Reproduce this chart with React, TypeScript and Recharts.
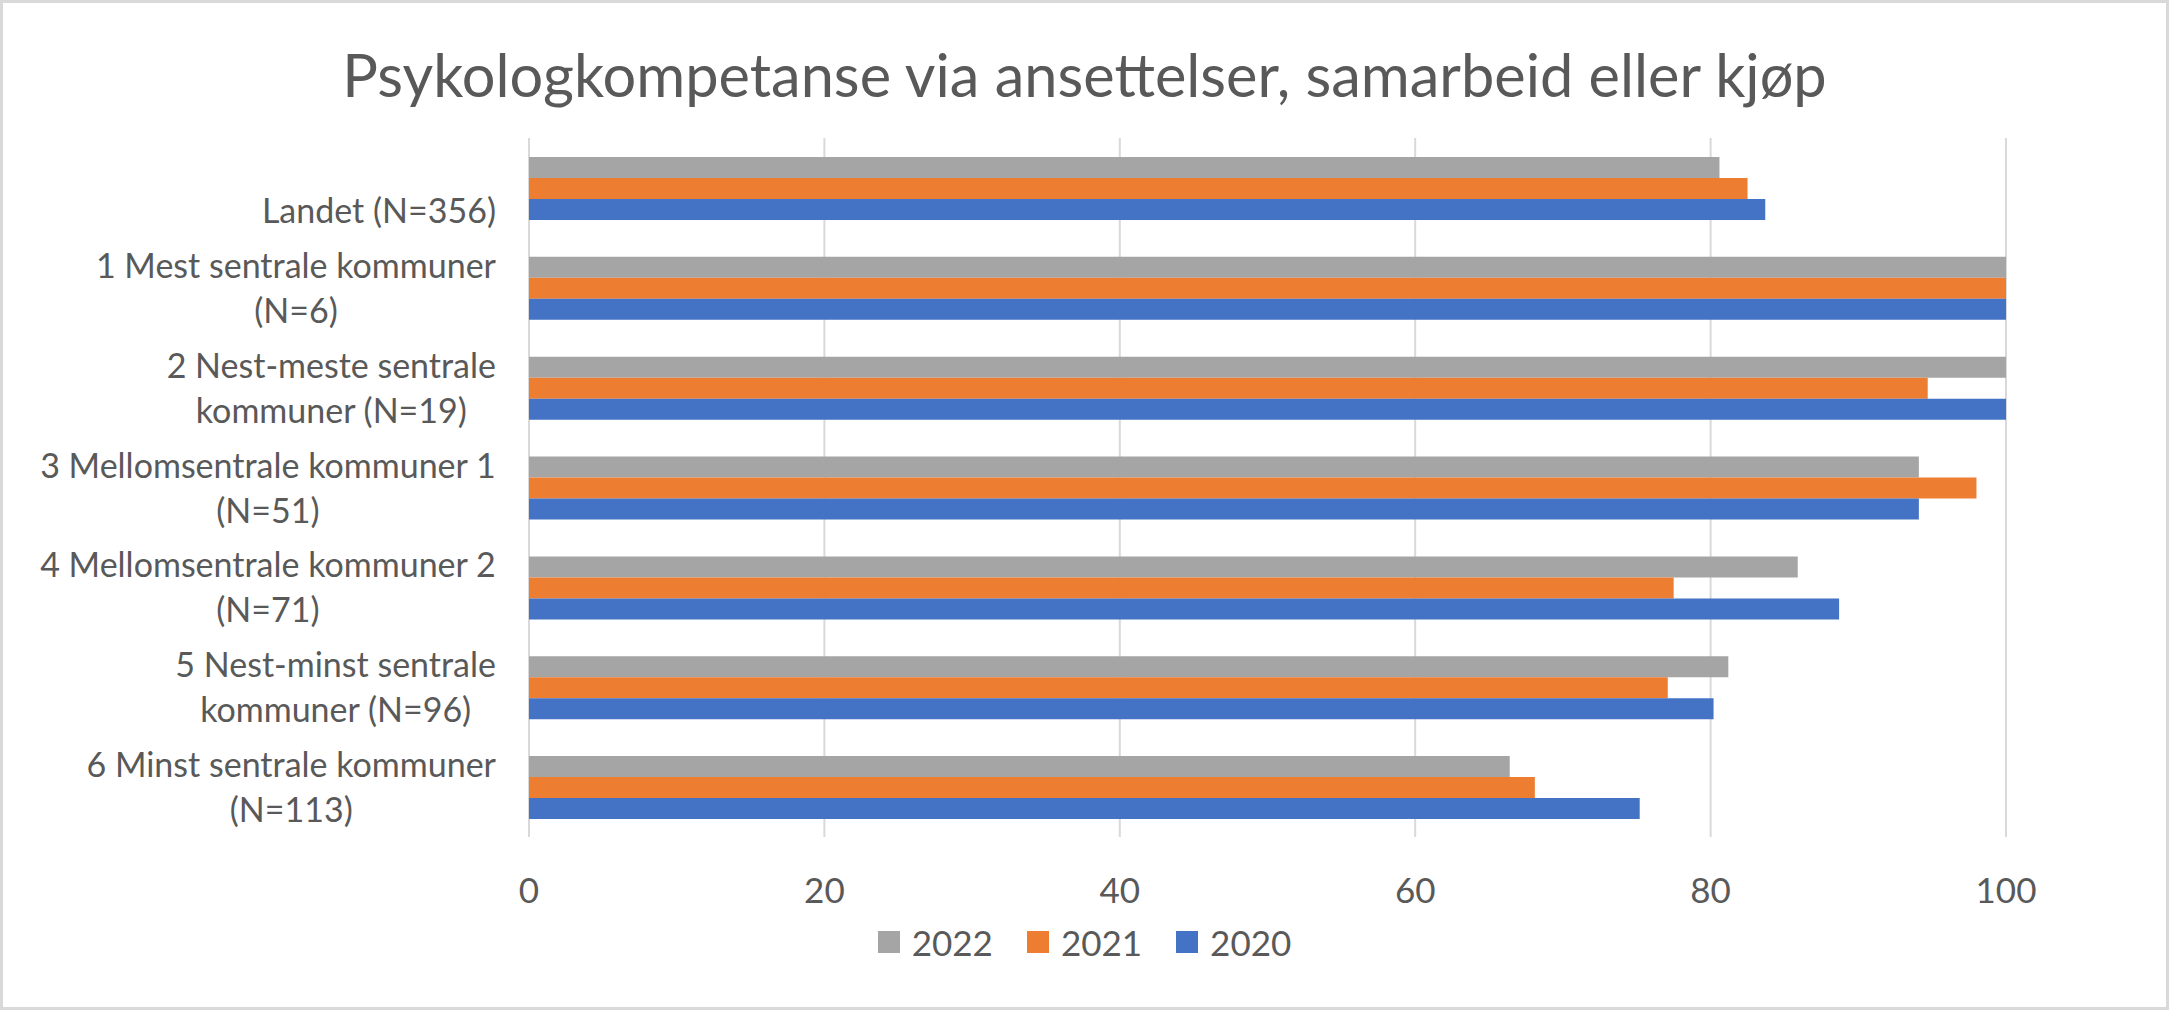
import React from "react";
import { BarChart, Bar, XAxis, YAxis, CartesianGrid, Legend } from "recharts";

const categories = [
  "Landet (N=356)",
  "1 Mest sentrale kommuner\n(N=6)",
  "2 Nest-meste sentrale\nkommuner (N=19)",
  "3 Mellomsentrale kommuner 1\n(N=51)",
  "4 Mellomsentrale kommuner 2\n(N=71)",
  "5 Nest-minst sentrale\nkommuner (N=96)",
  "6 Minst sentrale kommuner\n(N=113)",
];

const values2022 = [80.6, 100, 100, 94.1, 85.9, 81.2, 66.4];
const values2021 = [82.5, 100, 94.7, 98.0, 77.5, 77.1, 68.1];
const values2020 = [83.7, 100, 100, 94.1, 88.7, 80.2, 75.2];

const seriesNames = ["2022", "2021", "2020"];
const xTicks = [0, 20, 40, 60, 80, 100];

const data = categories.map((name, i) => ({
  name,
  y2022: values2022[i],
  y2021: values2021[i],
  y2020: values2020[i],
}));

const FONT = "Lato, 'Open Sans', sans-serif";
const TEXT = "#595959";
const W = 2169;
const H = 1010;

let canvas: HTMLCanvasElement | null = null;
function measure(text: string, size: number) {
  if (!canvas) canvas = document.createElement("canvas");
  const ctx = canvas.getContext("2d")!;
  ctx.font = `${size}px Lato`;
  return ctx.measureText(text).width;
}

function CategoryTick(props: any) {
  const { x, y, payload } = props;
  const lines: string[] = String(payload.value).split("\n");
  const size = 34;
  const widths = lines.map((l) => measure(l, size));
  const block = Math.max(...widths);
  const cx = x - block / 2;
  // single line labels sit on the second line position, like the original
  const baselines = lines.length === 1 ? [y + 35] : [y - 10, y + 35];
  return (
    <g>
      {lines.map((l, i) => (
        <text
          key={i}
          x={cx}
          y={baselines[i]}
          textAnchor="middle"
          fontFamily={FONT}
          fontSize={size}
          fill={TEXT}
        >
          {l}
        </text>
      ))}
    </g>
  );
}

function ValueTick(props: any) {
  const { x, y, payload } = props;
  return (
    <text x={x} y={y + 66} textAnchor="middle" fontFamily={FONT} fontSize={35} fill={TEXT}>
      {payload.value}
    </text>
  );
}

function LegendContent(props: any) {
  const items = [...(props.payload || [])].sort(
    (a: any, b: any) => seriesNames.indexOf(String(a.value)) - seriesNames.indexOf(String(b.value))
  );
  return (
    <div
      style={{
        display: "flex",
        justifyContent: "center",
        alignItems: "center",
        height: 54,
        fontFamily: FONT,
        fontSize: 35,
        color: TEXT,
        gap: 34,
      }}
    >
      {items.map((it: any) => (
        <div key={it.value} style={{ display: "flex", alignItems: "center" }}>
          <span
            style={{ width: 22, height: 22, background: it.color, marginRight: 12, display: "inline-block" }}
          />
          <span>{it.value}</span>
        </div>
      ))}
    </div>
  );
}

export default function App() {
  return (
    <div style={{ position: "relative", width: W, height: H, background: "#fff" }}>
      <style>{"body{margin:0}"}</style>
      <div
        style={{
          position: "absolute",
          top: 45,
          left: 0,
          width: W,
          textAlign: "center",
          fontFamily: FONT,
          fontSize: 59.5,
          lineHeight: 1,
          color: TEXT,
        }}
      >
        Psykologkompetanse via ansettelser, samarbeid eller kjøp
      </div>
      <BarChart
        width={W}
        height={H}
        data={data}
        layout="vertical"
        margin={{ top: 138, right: 163, bottom: 113, left: 0 }}
        barCategoryGap="19%"
        barGap={0}
      >
        <CartesianGrid horizontal={false} stroke="#d9d9d9" strokeWidth={2} />
        <XAxis
          type="number"
          domain={[0, 100]}
          ticks={xTicks}
          axisLine={false}
          tickLine={false}
          tickSize={0}
          tickMargin={0}
          height={60}
          tick={<ValueTick />}
          interval={0}
        />
        <YAxis
          type="category"
          dataKey="name"
          width={529}
          axisLine={false}
          tickLine={false}
          tickSize={0}
          tickMargin={33}
          tick={<CategoryTick />}
          interval={0}
        />
        <Legend
          verticalAlign="middle"
          align="center"
          layout="horizontal"
          wrapperStyle={{ top: 915, left: 0, width: W }}
          content={<LegendContent />}
        />
        <Bar dataKey="y2022" name="2022" fill="#A5A5A5" isAnimationActive={false} />
        <Bar dataKey="y2021" name="2021" fill="#ED7D31" isAnimationActive={false} />
        <Bar dataKey="y2020" name="2020" fill="#4472C4" isAnimationActive={false} />
      </BarChart>
      <div
        style={{
          position: "absolute",
          inset: 0,
          border: "3px solid #d9d9d9",
          pointerEvents: "none",
        }}
      />
    </div>
  );
}
